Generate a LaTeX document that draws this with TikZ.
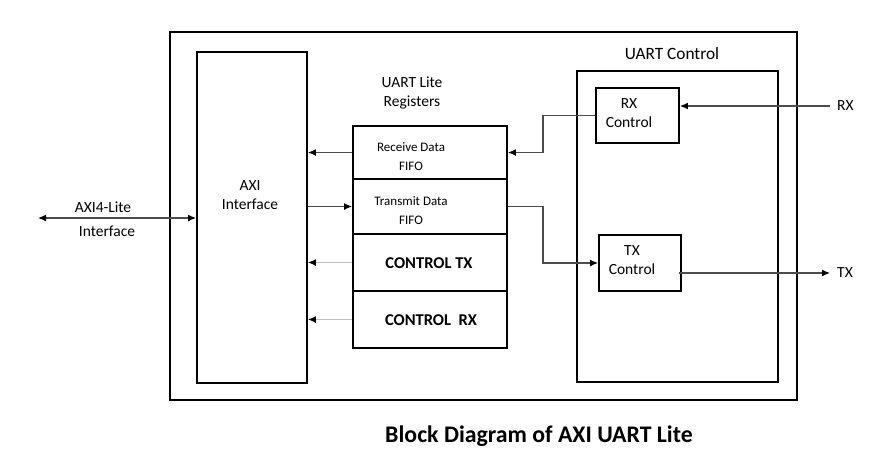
\documentclass[tikz,border=0pt]{standalone}
\usepackage{fontspec}
\setmainfont{Carlito}
\usetikzlibrary{arrows.meta}

\tikzset{
  block/.style = {draw, line width = 1.8pt, inner sep = 0pt},
  lbl/.style = {font = \fontsize{15.5}{19}\selectfont, align = center, inner sep = 0pt},
  small/.style = {font = \fontsize{13}{19}\selectfont, align = center, inner sep = 0pt},
  bold/.style = {lbl, font = \fontsize{16.5}{19}\selectfont\bfseries},
  wire/.style = {draw = black!70, line width = 1.3pt},
  tip/.style = {-{Latex[length = 8pt, width = 7pt, color = black]}}
}

\begin{document}
\begin{tikzpicture}[x = 1pt, y = -1pt]

      \useasboundingbox (0, 0) rectangle (894, 464);

      % blocks
      \node[block, minimum width = 627pt, minimum height = 368pt] (outer) at (483.5, 216) {};
      \node[block, minimum width = 110pt, minimum height = 331pt] (axi) at (252, 217.5) {};
      \node[block, minimum width = 154pt, minimum height = 53pt] (rxfifo) at (430, 152.5) {};
      \node[block, minimum width = 154pt, minimum height = 55pt] (txfifo) at (430, 206.5) {};
      \node[block, minimum width = 154pt, minimum height = 57pt] (ctltx) at (430, 262.5) {};
      \node[block, minimum width = 154pt, minimum height = 57pt] (ctlrx) at (430, 319.5) {};
      \node[block, minimum width = 201pt, minimum height = 311pt] (uartctl) at (677.5, 226.5) {};
      \node[block, minimum width = 83pt, minimum height = 55pt] (rxctl) at (637.5, 115.5) {};
      \node[block, minimum width = 82pt, minimum height = 56pt] (txctl) at (640, 263) {};

      % texts
      \node[lbl] (axitext) at (250, 195) {AXI\\Interface};
      \node[lbl] (regstext) at (412, 93) {UART Lite\\Registers};
      \node[lbl, font = \fontsize{17.3}{19}\selectfont] (uarttext) at (672, 54) {UART Control};
      \node[small] (rxfifotext) at (411, 156.5) {Receive Data\\FIFO};
      \node[small] (txfifotext) at (411, 211) {Transmit Data\\FIFO};
      \node[bold] (ctltxtext) at (429, 263) {CONTROL TX};
      \node[bold] (ctlrxtext) at (431, 320) {CONTROL\ \ RX};
      \node[lbl] (rxctltext) at (629, 113) {RX\\Control};
      \node[lbl] (txctltext) at (632, 260.5) {TX\\Control};
      \node[lbl] (axil1) at (103, 207) {AXI4-Lite};
      \node[lbl] (axil2) at (107, 231) {Interface};
      \node[lbl, anchor = west] (rxlbl) at (837, 106) {RX};
      \node[lbl, anchor = west] (txlbl) at (837, 273) {TX};
      \node[lbl, font = \fontsize{23.8}{26}\selectfont\bfseries] (caption) at (539, 436) {Block Diagram of AXI UART Lite};

      % connectors
      \coordinate (axiend) at (38, 218);
      \coordinate (rxin) at (830, 106);
      \coordinate (txout) at (830, 273);
      \draw[wire, {Latex[length = 8pt, width = 7pt, color = black]}-{Latex[length = 8pt, width = 7pt, color = black]}] (axiend) -- (axiend -| axi.west);
      \draw[wire, tip] (rxfifo.west) -- (rxfifo.west -| axi.east);
      \draw[wire, tip] (txfifo.west -| axi.east) -- (txfifo.west);
      \draw[wire, tip, draw = black!25] (ctltx.west) -- (ctltx.west -| axi.east);
      \draw[wire, tip, draw = black!25] (ctlrx.west) -- (ctlrx.west -| axi.east);
      \draw[wire, tip] (rxctl.west) -| ([xshift = 35pt]rxfifo.east) -- (rxfifo.east);
      \draw[wire, tip] (txfifo.east) -- ++(35, 0) |- (txctl.west);
      \draw[wire, tip] (rxin) -- (rxin -| rxctl.east);
      \draw[wire, tip] ([xshift = -3pt]txctl.east |- txout) -- (txout);

    \end{tikzpicture}
\end{document}
